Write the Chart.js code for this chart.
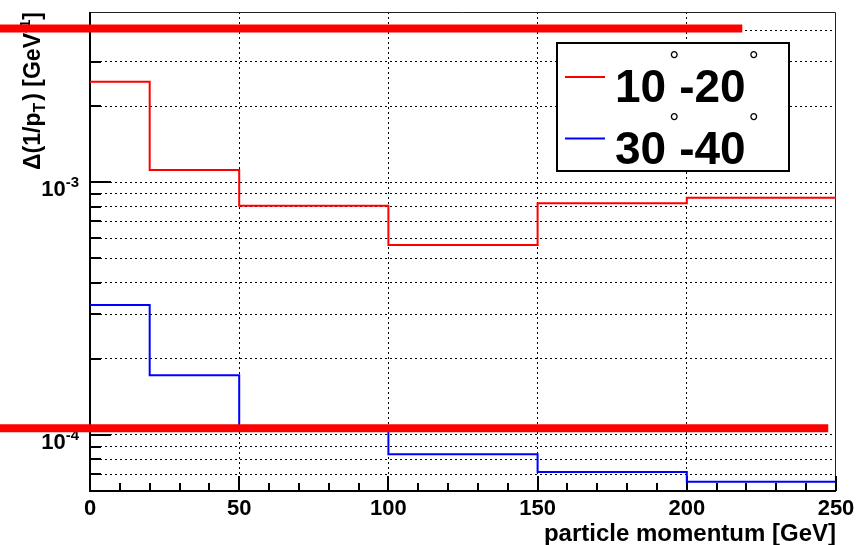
<!DOCTYPE html>
<html>
<head>
<meta charset="utf-8">
<script src="https://cdn.jsdelivr.net/npm/chart.js@4.4.1/dist/chart.umd.min.js"></script>
<style>
  html, body { margin: 0; padding: 0; background: #fff; }
  #wrap { width: 865px; height: 545px; }
</style>
</head>
<body>
<div id="wrap"><canvas id="resolution-chart" width="865" height="545"></canvas></div>
<script>
// ---------------------- DATA -------------------------
const binEdges = [0, 20, 50, 100, 150, 200, 250];            // GeV
const res10to20 = [2.50e-3, 1.118e-3, 8.08e-4, 5.65e-4, 8.26e-4, 8.69e-4];
const res30to40 = [3.27e-4, 1.723e-4, 1.06e-4, 8.39e-5, 7.14e-5, 6.53e-5];
const seriesLabels = ['10°-20°', '30°-40°'];
const seriesColors = ['#ff0000', '#0000ff'];

const xTickValues = [0, 50, 100, 150, 200, 250];
const xMinorStep = 10;
const yRange = [6.0e-5, 4.72e-3];
const yLabelDecades = [-4, -3];

// thick red marker lines: level, from x, to x (GeV units)
const markerLevels = [4.06e-3, 1.063e-4];
const markerFrom = [-30.2, -30.2];
const markerTo = [218.6, 247.4];

const FONT = "'Liberation Sans', Arial, Helvetica, sans-serif";

// ---------------------- HELPERS -------------------------
function stepPoints(values) {
      // one point per bin low edge, plus the closing edge
      const pts = values.map((v, i) => ({ x: binEdges[i], y: v }));
      pts.push({ x: binEdges[binEdges.length - 1], y: values[values.length - 1] });
      return pts;
}

function isDecade(v) {
      const l = Math.log10(v);
      return Math.abs(l - Math.round(l)) < 1e-9;
}

function logGridValues() {
      const out = [];
      const lo = Math.floor(Math.log10(yRange[0]));
      const hi = Math.ceil(Math.log10(yRange[1]));
      for (let e = lo; e <= hi; e++) {
            for (let m = 1; m <= 9; m++) {
                  const v = m * Math.pow(10, e);
                  if (v > yRange[0] * 1.001 && v < yRange[1] * 0.999) out.push(v);
            }
      }
      return out;
}

// draws runs of text with their own font / baseline shift (super- and subscripts)
function drawRich(ctx, parts, x, y, align) {
      let total = 0;
      parts.forEach(p => {
            ctx.font = p.font;
            p.w = ctx.measureText(p.text).width + (p.gap || 0) + (p.pre || 0);
            total += p.w;
      });
      let cx = align === 'right' ? x - total : x;
      ctx.textAlign = 'left';
      ctx.textBaseline = 'alphabetic';
      parts.forEach(p => {
            ctx.font = p.font;
            ctx.fillText(p.text, cx + (p.pre || 0), y + (p.dy || 0));
            cx += p.w;
      });
}

// ROOT-like frame, inside ticks, decade labels and y title
const rootAxes = {
      id: 'rootAxes',
      beforeDatasetsDraw(chart) {
            const { ctx, chartArea: ca } = chart;
            const xs = chart.scales.x;
            const ys = chart.scales.y;
            ctx.save();

            // thin top / right frame
            ctx.strokeStyle = '#222';
            ctx.lineWidth = 1;
            ctx.beginPath();
            ctx.moveTo(ca.left, ca.top + 0.5);
            ctx.lineTo(ca.right - 0.5, ca.top + 0.5);
            ctx.lineTo(ca.right - 0.5, ca.bottom);
            ctx.stroke();

            // heavy left / bottom axes
            ctx.strokeStyle = '#000';
            ctx.lineWidth = 2;
            ctx.beginPath();
            ctx.moveTo(ca.left, ca.top);
            ctx.lineTo(ca.left, ca.bottom);
            ctx.lineTo(ca.right, ca.bottom);
            ctx.stroke();

            // y ticks pointing into the pad
            ys.ticks.forEach(t => {
                  const py = Math.round(ys.getPixelForValue(t.value));
                  const len = isDecade(t.value) ? 21 : 11;
                  ctx.beginPath();
                  ctx.moveTo(ca.left, py);
                  ctx.lineTo(ca.left + len, py);
                  ctx.stroke();
            });

            // x ticks, major every label, minor every xMinorStep
            for (let v = xs.min; v <= xs.max; v += xMinorStep) {
                  const px = Math.round(xs.getPixelForValue(v));
                  const len = xTickValues.includes(v) ? 15 : 8;
                  ctx.beginPath();
                  ctx.moveTo(px, ca.bottom);
                  ctx.lineTo(px, ca.bottom - len);
                  ctx.stroke();
            }

            // decade labels 10^n
            ctx.fillStyle = '#000';
            yLabelDecades.forEach(e => {
                  const py = ys.getPixelForValue(Math.pow(10, e));
                  drawRich(ctx, [
                        { text: '10', font: `bold 22px ${FONT}` },
                        { text: String(e), font: `bold 15px ${FONT}`, dy: -9 }
                  ], ca.left - 11, py + 14, 'right');
            });

            // y title, rotated and flush with the top of the pad
            ctx.save();
            ctx.translate(40, ca.top);
            ctx.rotate(-Math.PI / 2);
            drawRich(ctx, [
                  { text: 'Δ(1/p', font: `bold 23px ${FONT}` },
                  { text: 'T', font: `bold 16px ${FONT}`, dy: 5, gap: 2 },
                  { text: ') [GeV', font: `bold 23px ${FONT}` },
                  { text: '-1', font: `bold 15px ${FONT}`, dy: -10 },
                  { text: ']', font: `bold 23px ${FONT}` }
            ], 0, 0, 'right');
            ctx.restore();

            ctx.restore();
      }
};

// boxed legend with raised degree signs
const boxLegend = {
      id: 'boxLegend',
      afterDatasetsDraw(chart, args, opts) {
            const { ctx } = chart;
            const b = opts.box;
            ctx.save();
            ctx.fillStyle = '#fff';
            ctx.fillRect(b.left, b.top, b.width, b.height);
            ctx.strokeStyle = '#000';
            ctx.lineWidth = 2;
            ctx.strokeRect(b.left, b.top, b.width, b.height);

            const entries = chart.data.datasets.filter(ds => !ds.isMarker);
            entries.forEach((ds, i) => {
                  const rowY = b.top + opts.firstRow + i * opts.rowStep;
                  ctx.strokeStyle = ds.borderColor;
                  ctx.lineWidth = 2;
                  ctx.beginPath();
                  ctx.moveTo(b.left + 8, rowY);
                  ctx.lineTo(b.left + 48, rowY);
                  ctx.stroke();

                  const parts = [];
                  ds.label.split('°').forEach((chunk, k, arr) => {
                        if (chunk) parts.push({ text: chunk, font: `bold 46px ${FONT}` });
                        if (k < arr.length - 1) parts.push({ text: '°', font: `25px ${FONT}`, dy: -32.7, pre: 3 });
                  });
                  ctx.fillStyle = '#000';
                  drawRich(ctx, parts, b.left + 58, rowY + 25, 'left');
            });
            ctx.restore();
      }
};

// ---------------------- CHART -------------------------
const ctx = document.getElementById('resolution-chart').getContext('2d');

const markerSets = markerLevels.map((lvl, i) => ({
      label: '',
      isMarker: true,
      data: [{ x: markerFrom[i], y: lvl }, { x: markerTo[i], y: lvl }],
      borderColor: '#ff0000',
      borderWidth: 8,
      borderCapStyle: 'butt',
      pointRadius: 0,
      clip: false,
      order: 0
}));

const resolutionChart = new Chart(ctx, {
      type: 'line',
      data: {
            datasets: [
                  ...markerSets,
                  {
                        label: seriesLabels[0],
                        data: stepPoints(res10to20),
                        stepped: 'before',
                        borderColor: seriesColors[0],
                        borderWidth: 2,
                        pointRadius: 0,
                        order: 1
                  },
                  {
                        label: seriesLabels[1],
                        data: stepPoints(res30to40),
                        stepped: 'before',
                        borderColor: seriesColors[1],
                        borderWidth: 2,
                        pointRadius: 0,
                        order: 1
                  }
            ]
      },
      options: {
            responsive: false,
            animation: false,
            devicePixelRatio: 1,
            layout: { padding: { top: 12, right: 29, left: 0, bottom: 0 } },
            scales: {
                  x: {
                        type: 'linear',
                        min: 0,
                        max: 250,
                        afterBuildTicks: s => { s.ticks = xTickValues.map(v => ({ value: v })); },
                        afterFit: s => { s.height = 54; },
                        grid: {
                              color: c => (c.tick && (c.tick.value === 0 || c.tick.value === 250)) ? 'rgba(0,0,0,0)' : '#000',
                              lineWidth: 1,
                              drawTicks: false
                        },
                        border: { display: false, dash: [2, 3] },
                        ticks: {
                              color: '#000',
                              padding: 5,
                              maxRotation: 0,
                              autoSkip: false,
                              font: { family: FONT, size: 22, weight: 'bold' }
                        },
                        title: {
                              display: true,
                              text: 'particle momentum [GeV]',
                              align: 'end',
                              color: '#000',
                              padding: { top: 0, bottom: -4 },
                              font: { family: FONT, size: 24, weight: 'bold' }
                        }
                  },
                  y: {
                        type: 'logarithmic',
                        min: yRange[0],
                        max: yRange[1],
                        afterBuildTicks: s => { s.ticks = logGridValues().map(v => ({ value: v, major: isDecade(v) })); },
                        afterFit: s => { s.width = 90; },
                        grid: { color: '#000', lineWidth: 1, drawTicks: false },
                        border: { display: false, dash: [2, 3] },
                        ticks: { display: false }
                  }
            },
            plugins: {
                  legend: { display: false },
                  tooltip: { enabled: false },
                  boxLegend: {
                        box: { left: 557, top: 43, width: 232, height: 128 },
                        firstRow: 34,
                        rowStep: 61.6
                  }
            }
      },
      plugins: [rootAxes, boxLegend]
});
</script>
</body>
</html>
